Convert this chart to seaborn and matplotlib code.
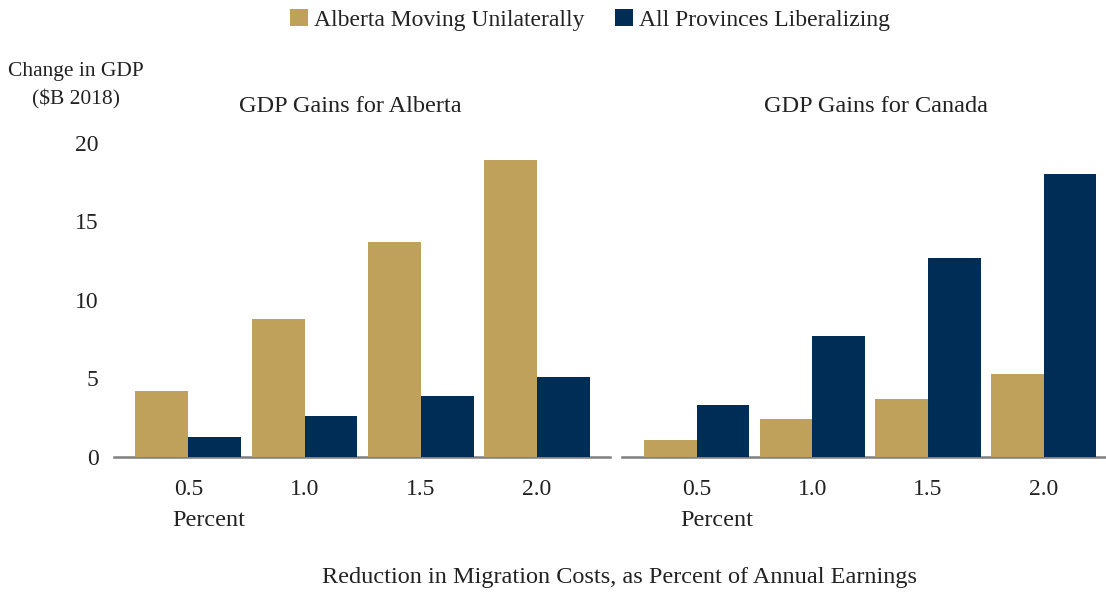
import matplotlib
matplotlib.use("Agg")
import matplotlib.pyplot as plt
import matplotlib.transforms as mtransforms
from matplotlib.patches import Patch
import seaborn as sns
import pandas as pd

# ---- data ----
reductions = ["0.5", "1.0", "1.5", "2.0"]
scenarios = ["Alberta Moving Unilaterally", "All Provinces Liberalizing"]
alberta_unilateral = [4.2, 8.8, 13.7, 18.9]
alberta_all = [1.3, 2.6, 3.9, 5.1]
canada_unilateral = [1.1, 2.4, 3.7, 5.3]
canada_all = [3.3, 7.7, 12.7, 18.0]
yticks = [0, 5, 10, 15, 20]
panel_titles = ["GDP Gains for Alberta", "GDP Gains for Canada"]

GOLD = "#C0A15C"
NAVY = "#002D56"
palette = {scenarios[0]: GOLD, scenarios[1]: NAVY}

def make_df(uni, allp):
    rows = []
    for r, u, a in zip(reductions, uni, allp):
        rows.append({"reduction": r, "scenario": scenarios[0], "gdp": u})
        rows.append({"reduction": r, "scenario": scenarios[1], "gdp": a})
    return pd.DataFrame(rows)

df_ab = make_df(alberta_unilateral, alberta_all)
df_ca = make_df(canada_unilateral, canada_all)

sns.set_style("white")
plt.rcParams["font.family"] = ["Liberation Serif", "DejaVu Serif"]
TXT = "#222222"
FS = 17

W, H = 1106, 592
fig = plt.figure(figsize=(W / 100, H / 100), dpi=100)

def fx(px):
    return px / W

def fy(py):
    return 1 - py / H

ax1 = fig.add_axes([fx(114), fy(457), fx(610) - fx(114), fy(143) - fy(457)])
ax2 = fig.add_axes([fx(622), fy(457), fx(1106) - fx(622), fy(143) - fy(457)])

for ax, df, xl in [(ax1, df_ab, (-0.64, 3.63)), (ax2, df_ca, (-0.648, 3.54))]:
    sns.barplot(data=df, x="reduction", y="gdp", hue="scenario",
                hue_order=scenarios, order=reductions, palette=palette,
                width=0.91, saturation=1, ax=ax, legend=False, errorbar=None,
                linewidth=0, edgecolor="none")
    ax.set_xlim(*xl)
    ax.set_ylim(0, 20)
    ax.set_xlabel("")
    ax.set_ylabel("")
    for s in ["top", "right", "left"]:
        ax.spines[s].set_visible(False)
    ax.spines["bottom"].set_color("#7f7f7f")
    ax.spines["bottom"].set_linewidth(1.8)
    ax.spines["bottom"].set_zorder(0.5)
    ax.tick_params(axis="x", length=0, pad=16, labelsize=FS, labelcolor=TXT)
    ax.set_facecolor("white")
    tr = mtransforms.blended_transform_factory(ax.transData, fig.transFigure)
    ax.text(-0.14, fy(521), "Percent", transform=tr, ha="left", va="center",
            fontsize=FS + 0.5, color=TXT)

ax1.set_yticks(yticks)
ax1.tick_params(axis="y", length=0, pad=11, labelsize=FS, labelcolor=TXT)
ax2.set_yticks([])

fig.text(fx(350), fy(107), panel_titles[0], ha="center", va="center", fontsize=FS + 0.5, color=TXT)
fig.text(fx(876), fy(107), panel_titles[1], ha="center", va="center", fontsize=FS + 0.5, color=TXT)
fig.text(fx(76), fy(86), "Change in GDP\n($B 2018)", ha="center", va="center",
         fontsize=15.5, color=TXT, linespacing=1.55)
fig.text(fx(619), fy(578), "Reduction in Migration Costs, as Percent of Annual Earnings",
         ha="center", va="center", fontsize=FS + 0.5, color=TXT)

handles = [Patch(facecolor=palette[s], edgecolor="none", label=s) for s in scenarios]
fig.legend(handles=handles, loc="center", bbox_to_anchor=(fx(590), fy(20)), ncol=2,
           frameon=False, fontsize=FS, handlelength=0.75, handleheight=0.75,
           handletextpad=0.25, columnspacing=1.3, labelcolor=TXT)

fig.savefig("out.png", dpi=100, facecolor="white")
